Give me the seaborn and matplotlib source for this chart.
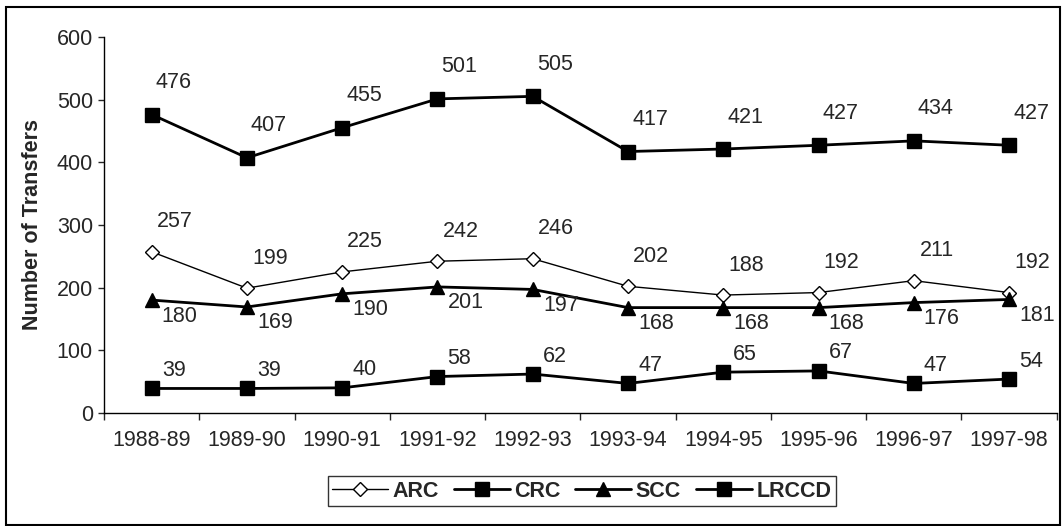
import pandas as pd
import seaborn as sns
import matplotlib.pyplot as plt
from matplotlib.patches import Rectangle

# ---------------- Data ----------------
years = ["1988-89", "1989-90", "1990-91", "1991-92", "1992-93",
         "1993-94", "1994-95", "1995-96", "1996-97", "1997-98"]
arc = [257, 199, 225, 242, 246, 202, 188, 192, 211, 192]
crc = [39, 39, 40, 58, 62, 47, 65, 67, 47, 54]
scc = [180, 169, 190, 201, 197, 168, 168, 168, 176, 181]
lrccd = [476, 407, 455, 501, 505, 417, 421, 427, 434, 427]

sns.set_style("ticks")
plt.rcParams['font.family'] = ['Liberation Sans', 'DejaVu Sans']
plt.rcParams['font.size'] = 15.5

fig = plt.figure(figsize=(10.62, 5.26), dpi=100)
ax = fig.add_axes([0.098, 0.215, 0.897, 0.715])

# series: (name, values, marker, face, linewidth, markersize, label offset px)
series = [
    ("ARC", arc, "D", "white", 1.0, 7.5, (23, 30)),
    ("CRC", crc, "s", "black", 2.0, 9.5, (22, 18)),
    ("SCC", scc, "^", "black", 2.0, 10.5, (28, -16)),
    ("LRCCD", lrccd, "s", "black", 2.0, 9.5, (22, 32)),
]

for name, vals, mk, face, lw, ms, off in series:
    df = pd.DataFrame({"year": range(len(years)), "value": vals})
    sns.lineplot(data=df, x="year", y="value", ax=ax, color="black",
                 marker=mk, markerfacecolor=face, markeredgecolor="black",
                 markeredgewidth=1.0, markersize=ms, linewidth=lw, label=name)
    for i, v in enumerate(vals):
        ax.annotate(str(v), (i, v), xytext=off, textcoords="offset pixels",
                    ha="center", va="center", fontsize=15.5)

ax.set_xlim(-0.5, len(years) - 0.5)
ax.set_ylim(0, 600)
ax.set_yticks(range(0, 601, 100))
ax.set_xticks(range(len(years)))
ax.set_xticklabels(years)
ax.set_xticks([i - 0.5 for i in range(len(years) + 1)], minor=True)
ax.tick_params(axis="x", which="major", length=0, pad=12)
ax.tick_params(axis="x", which="minor", length=5, direction="out", width=1)
ax.tick_params(axis="y", length=4, width=1, pad=4)
ax.set_xlabel("")
ax.set_ylabel("Number of Transfers", fontweight="bold", fontsize=15.5, labelpad=10)

for side in ["top", "right"]:
    ax.spines[side].set_visible(False)
for side in ["left", "bottom"]:
    ax.spines[side].set_linewidth(1.0)
    ax.spines[side].set_color("black")

ax.get_legend().remove()
handles, labels = ax.get_legend_handles_labels()
leg = fig.legend(handles, labels, loc="center", bbox_to_anchor=(0.5476, 0.066),
                 ncol=4, frameon=True, fancybox=False, handlelength=2.6,
                 handletextpad=0.2, columnspacing=0.7, borderpad=0.2,
                 prop={"weight": "bold", "size": 15.5})
leg.get_frame().set_edgecolor("black")
leg.get_frame().set_linewidth(1.0)

fig.add_artist(Rectangle((0.006, 0.002), 0.992, 0.985, transform=fig.transFigure,
                         fill=False, edgecolor="black", linewidth=1.5))

fig.savefig("out.png", dpi=100)
